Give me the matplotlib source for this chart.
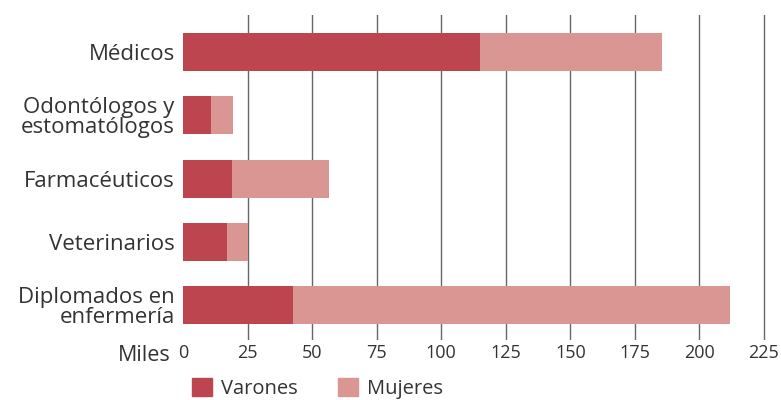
import matplotlib.pyplot as plt
from matplotlib.patches import Patch

# Profesionales sanitarios colegiados, miles
categorias = ['Médicos', 'Odontólogos y\nestomatólogos', 'Farmacéuticos',
              'Veterinarios', 'Diplomados en\nenfermería']
varones = [115, 11, 19, 17, 42.5]
mujeres = [70.5, 8.5, 37.5, 8, 169.5]
ticks = [0, 25, 50, 75, 100, 125, 150, 175, 200, 225]

col_var = '#BC4550'
col_muj = '#DA9692'
txt = '#333333'
plt.rcParams['font.family'] = ['Open Sans', 'DejaVu Sans']

fig = plt.figure(figsize=(7.81, 4), dpi=100)
x0 = 183 / 781
ax = fig.add_axes([x0, 0.15, (229 * 2.582) / 781, 0.8125])

y = list(range(len(categorias)))
ax.barh(y, varones, height=0.6, color=col_var, zorder=2, label='Varones')
ax.barh(y, mujeres, left=varones, height=0.6, color=col_muj, zorder=2, label='Mujeres')

ax.set_xlim(0, 229)
ax.set_ylim(4.55, -0.585)
ax.set_xticks(ticks)
ax.set_xticklabels([str(t) for t in ticks], fontsize=13, color=txt)
ax.set_yticks(y)
ax.set_yticklabels(categorias, fontsize=16, color=txt, linespacing=0.95)
ax.tick_params(length=0, pad=6)
ax.tick_params(axis='x', pad=3)
for t in ticks[1:]:
    ax.axvline(t, color='#666666', lw=1, zorder=1)
for s in ax.spines.values():
    s.set_visible(False)

fig.text(x0 - 0.016, 0.112, 'Miles', ha='right', va='center', fontsize=15.5, color=txt)

handles = [Patch(color=col_var, label='Varones'), Patch(color=col_muj, label='Mujeres')]
fig.legend(handles=handles, loc='lower left', bbox_to_anchor=(x0 - 0.012, -0.042),
           ncol=2, frameon=False, fontsize=14.5, handlelength=1.0, handleheight=1.0,
           handletextpad=0.45, columnspacing=2.0, labelcolor=txt)

plt.savefig('out.png', dpi=100)
